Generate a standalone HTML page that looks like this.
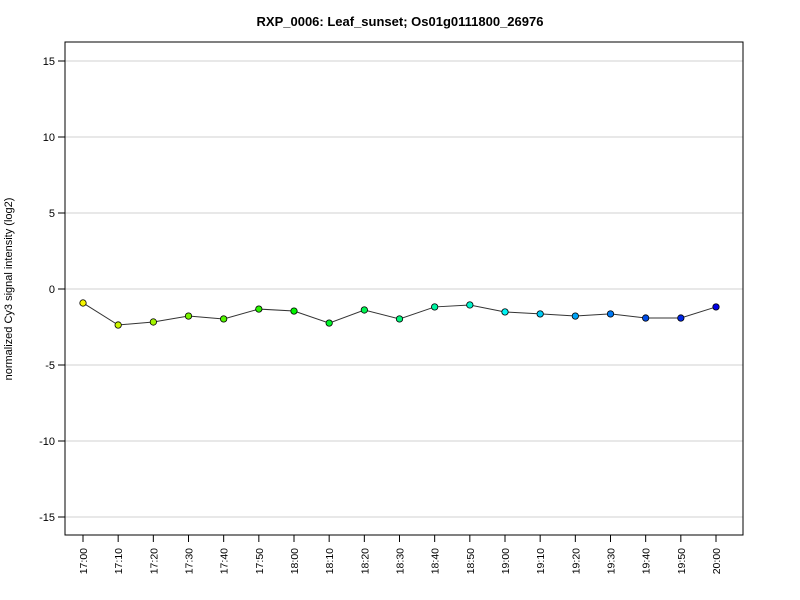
<!DOCTYPE html>
<html><head><meta charset="utf-8"><style>
body{margin:0;background:#fff}
svg{display:block;font-family:"Liberation Sans",Arial,sans-serif}
</style></head><body>
<svg id="chart" width="800" height="600" viewBox="0 0 800 600">
<rect width="800" height="600" fill="#fff"/>
<text x="400" y="26" text-anchor="middle" font-size="13" font-weight="bold">RXP_0006: Leaf_sunset; Os01g0111800_26976</text>
<text transform="translate(12,289) rotate(-90)" text-anchor="middle" font-size="11">normalized Cy3 signal intensity (log2)</text>
<g id="grid"></g><g id="axes"></g><g id="series"></g>
<rect x="65" y="42" width="678" height="493" fill="none" stroke="#000"/>
</svg>
<script>
const categories=["17:00","17:10","17:20","17:30","17:40","17:50","18:00","18:10","18:20","18:30","18:40","18:50","19:00","19:10","19:20","19:30","19:40","19:50","20:00"];
const values=[-0.92,-2.37,-2.17,-1.78,-1.97,-1.32,-1.45,-2.24,-1.38,-1.97,-1.18,-1.05,-1.51,-1.64,-1.78,-1.64,-1.91,-1.91,-1.18];
const yTicks=[-15,-10,-5,0,5,10,15];
const NS="http://www.w3.org/2000/svg";
function y(v){return 289-v*15.2;}
function x(i){return 83+i*(716-83)/(categories.length-1);}
function mk(t,a,p){const e=document.createElementNS(NS,t);for(const k in a)e.setAttribute(k,a[k]);p.appendChild(e);return e;}
const grid=document.getElementById('grid'),axes=document.getElementById('axes'),series=document.getElementById('series');
yTicks.forEach(t=>{
 const g=mk('line',{x1:65,x2:743,y1:y(t),y2:y(t),stroke:'#d0d0d0'},grid);
 
 
 const tk=mk('line',{x1:58,x2:65,y1:y(t),y2:y(t),stroke:'#000'},axes);
 
 
 const l=mk('text',{x:55,y:y(t)+4,'text-anchor':'end','font-size':11},axes);
 l.textContent=t;
 
 
});
categories.forEach((c,i)=>{
 const tk=mk('line',{x1:x(i),x2:x(i),y1:535,y2:542,stroke:'#000'},axes);
 
 
 const l=mk('text',{transform:`translate(${x(i)+4},548) rotate(-90)`,'text-anchor':'end','font-size':10.5},axes);
 l.textContent=c;
 
 
});
const pl=mk('polyline',{points:values.map((v,i)=>x(i)+','+y(v)).join(' '),fill:'none',stroke:'#333'},series);


values.forEach((v,i)=>{
 const h=60+180*i/(values.length-1);
 const c=mk('circle',{cx:x(i),cy:y(v),r:3.2,fill:`hsl(${h},100%,${i>15?45:48}%)`,stroke:'#000','stroke-width':0.8},series);
 
 
});
</script>
</body></html>
